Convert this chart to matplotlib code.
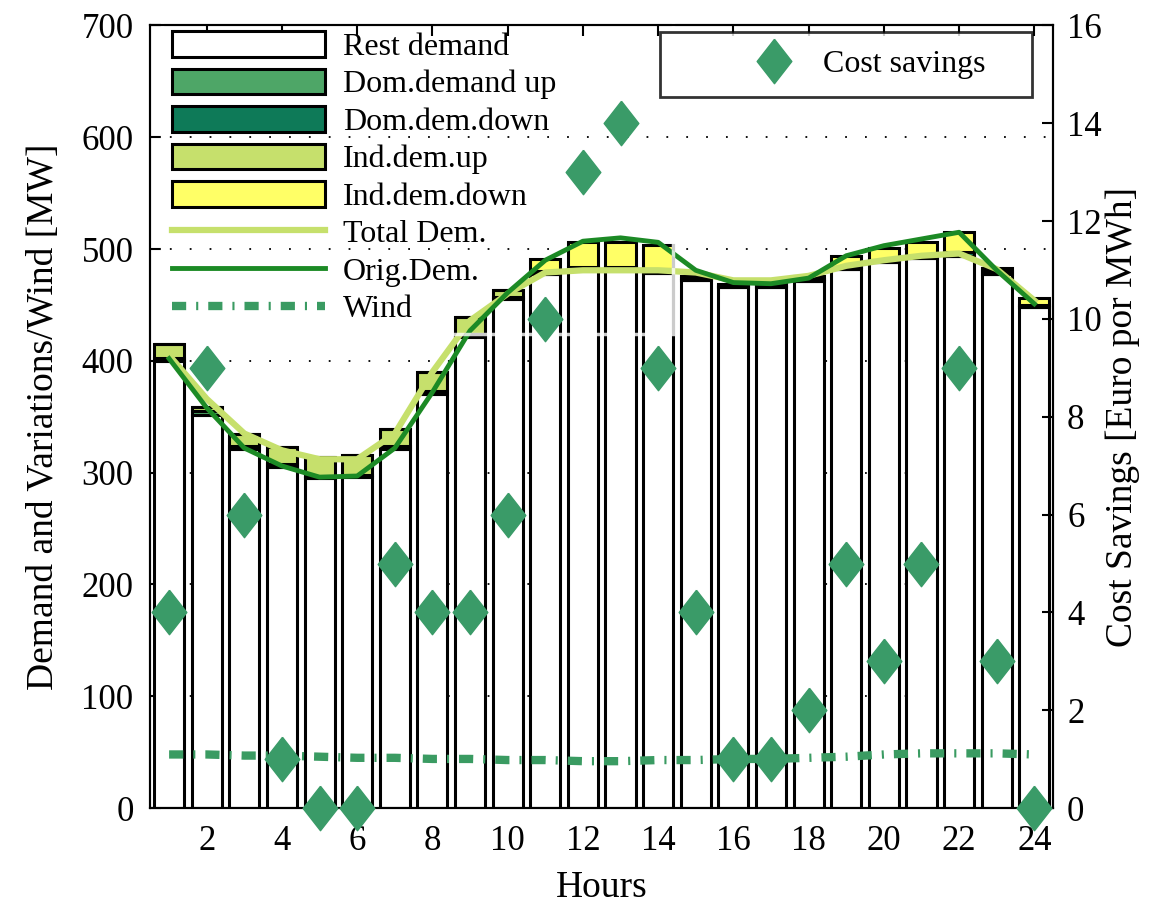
"""
Demand response per hour: stacked demand bars, demand curves, wind and cost savings.
Saves out.png in the working folder.
"""

import matplotlib

matplotlib.use("Agg")
import matplotlib.pyplot as plt
from matplotlib.lines import Line2D
from matplotlib.patches import Patch

plt.rcParams["font.family"] = ["Liberation Serif", "DejaVu Serif"]

# values (MW unless noted)
HOURS = list(range(1, 25))
REST_DEMAND = [400, 352, 321, 305, 295, 296, 321, 370, 421, 455, 478, 481,
               481, 479, 472, 466, 466, 471, 482, 488, 492, 494, 478, 448]
DOM_UP = [3, 3, 3, 3, 2, 2, 3, 3, 3, 2, 0, 0,
          0, 0, 0, 0, 0, 0, 0, 0, 0, 0, 0, 0]
DOM_DOWN = [0, 0, 0, 0, 0, 0, 0, 0, 0, 0, 2, 3,
            3, 3, 2, 1, 1, 2, 2, 2, 2, 3, 2, 2]
IND_UP = [12, 4, 11, 15, 17, 18, 15, 17, 15, 6, 0, 0,
          0, 0, 0, 0, 0, 0, 0, 0, 0, 0, 0, 0]
IND_DOWN = [0, 0, 0, 0, 0, 0, 0, 0, 0, 0, 11, 22,
            22, 22, 2, 2, 3, 3, 10, 11, 12, 18, 3, 6]
TOTAL_DEM = [405, 366, 335, 320, 312, 312, 335, 390, 436, 460, 479, 481,
             481, 481, 479, 472, 472, 476, 485, 490, 494, 496, 482, 454]
ORIG_DEM = [402, 358, 322, 306, 296, 297, 322, 372, 427, 461, 490, 507,
            510, 506, 481, 470, 469, 474, 494, 503, 509, 515, 481, 451]
WIND = [48, 48, 47, 47, 46, 45, 45, 44, 44, 43, 43, 42,
        42, 43, 43, 44, 44, 45, 46, 48, 49, 49, 49, 48]
COST_SAVINGS = [4, 9, 6, 1, 0, 0, 5, 4, 4, 6, 10, 13,
                14, 9, 4, 1, 1, 2, 5, 3, 5, 9, 3, 0]  # Euro per MWh

BAR_SERIES = [
    ("Rest demand", REST_DEMAND, "white"),
    ("Dom.demand up", DOM_UP, "#4ea667"),
    ("Dom.dem.down", DOM_DOWN, "#0e7a58"),
    ("Ind.dem.up", IND_UP, "#c6e06c"),
    ("Ind.dem.down", IND_DOWN, "#ffff66"),
]

TICK_FS = 25
LABEL_FS = 27
LEG_FS = 23
WIND_LW = 6
WIND_STYLE = (0, (1.7, 1.2, 0.25, 1.2))
DIAMOND = [(0, 1), (0.78, 0), (0, -1), (-0.78, 0), (0, 1)]


def main() -> None:
    fig = plt.figure(figsize=(11.65, 9.07), dpi=100)
    ax = fig.add_axes([0.129, 0.109, 0.775, 0.863])

    handles = []
    bottom = [0.0] * len(HOURS)
    for label, values, color in BAR_SERIES:
        ax.bar(HOURS, values, width=0.8, bottom=bottom, color=color,
               edgecolor="black", linewidth=2.2, zorder=2)
        bottom = [b + v for b, v in zip(bottom, values)]
        handles.append(Patch(facecolor=color, edgecolor="black",
                             linewidth=2.2, label=label))

    ax.plot(HOURS, TOTAL_DEM, color="#c6e06c", lw=4.5, zorder=3)
    ax.plot(HOURS, ORIG_DEM, color="#1c8a25", lw=3.5, zorder=4)
    ax.plot(HOURS, WIND, color="#3a9b62", lw=WIND_LW, zorder=4,
            linestyle=WIND_STYLE)
    handles.append(Line2D([], [], color="#c6e06c", lw=4.5, label="Total Dem."))
    handles.append(Line2D([], [], color="#1c8a25", lw=3.5, label="Orig.Dem."))
    handles.append(Line2D([], [], color="#3a9b62", lw=WIND_LW,
                          linestyle=WIND_STYLE, label="Wind"))

    ax.set_xlim(0.5, 24.5)
    ax.set_ylim(0, 700)
    ax.set_xticks(range(2, 25, 2))
    ax.set_yticks(range(0, 701, 100))
    ax.tick_params(direction="in", length=8, width=1.5, labelsize=TICK_FS,
                   top=True, right=False)
    ax.tick_params(axis="x", pad=12)
    ax.tick_params(axis="y", pad=12)
    ax.yaxis.grid(True, linestyle=(0, (1, 10)), color="black", lw=1.3)
    ax.set_axisbelow(True)
    ax.set_xlabel("Hours", fontsize=LABEL_FS, labelpad=9)
    ax.set_ylabel("Demand and Variations/Wind [MW]", fontsize=LABEL_FS,
                  labelpad=15)
    for sp in ax.spines.values():
        sp.set_linewidth(1.5)

    leg = ax.legend(handles=handles, loc="upper left",
                    bbox_to_anchor=(0.013, 0.0, 0.566, 1.005), mode="expand",
                    fontsize=LEG_FS, handlelength=4.8, handleheight=0.85,
                    labelspacing=0.21, handletextpad=0.56, borderpad=0.3,
                    borderaxespad=0.0, frameon=True, fancybox=False)
    leg.get_frame().set_facecolor("none")
    leg.get_frame().set_edgecolor("white")
    leg.get_frame().set_linewidth(2.5)

    ax2 = ax.twinx()
    ax2.plot(HOURS, COST_SAVINGS, linestyle="none", marker=DIAMOND,
             markersize=32, color="#3a9b68", clip_on=False, zorder=5)
    ax2.set_ylim(0, 16)
    ax2.set_yticks(range(0, 17, 2))
    ax2.tick_params(direction="in", length=8, width=1.5, labelsize=TICK_FS,
                    pad=10)
    ax2.set_ylabel("Cost Savings [Euro por MWh]", fontsize=LABEL_FS,
                   labelpad=3)
    for sp in ax2.spines.values():
        sp.set_linewidth(1.5)

    cost_handle = Line2D([], [], linestyle="none", marker=DIAMOND,
                         markersize=32, color="#3a9b68", label="Cost savings")
    leg2 = ax2.legend(handles=[cost_handle], loc="upper left",
                      bbox_to_anchor=(0.565, 0.0, 0.412, 0.991), mode="expand",
                      fontsize=LEG_FS, handlelength=6.0, handletextpad=-1.45,
                      borderpad=0.55, borderaxespad=0.0, frameon=True,
                      fancybox=False, numpoints=1)
    leg2.get_frame().set_edgecolor("black")
    leg2.get_frame().set_linewidth(2)

    fig.savefig("out.png", dpi=100)
    plt.close(fig)


if __name__ == "__main__":
    main()
